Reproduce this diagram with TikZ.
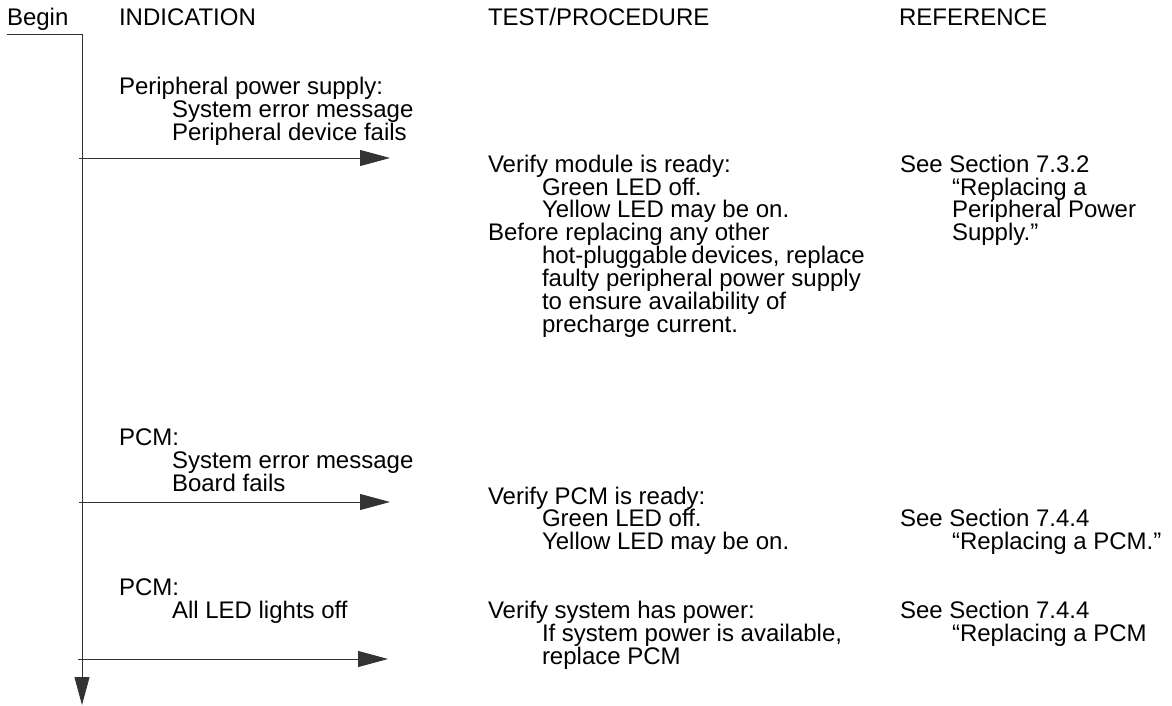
\documentclass[tikz,border=0pt]{standalone}
\usepackage{fontspec}
\setmainfont{Liberation Sans}
\usetikzlibrary{arrows.meta}
\begin{document}
\begin{tikzpicture}[x=1pt,y=-1pt,
  txt/.style={anchor=base west,inner sep=0pt,outer sep=0pt,font=\fontsize{24}{24}\selectfont},
  flow/.style={line width=0.9pt,draw=black!80},
  harr/.style={flow,-{Triangle[length=30pt,width=16pt]}},
  varr/.style={flow,-{Triangle[length=28pt,width=15pt]}}]
\useasboundingbox (0,0) rectangle (1172,706);
% headers
\node[txt] (hbegin) at (7,26) {Begin};
\node[txt] (hind) at (119,26) {INDICATION};
\node[txt] (htest) at (488,26) {TEST/PROCEDURE};
\node[txt] (href) at (899,26) {REFERENCE};
% flow line
\coordinate (b0) at (7,34);
\coordinate (b1) at (82,34);
\coordinate (bend) at (82,705);
\draw[flow] (b0) -- (b1);
\draw[varr] (b1) -- (bend);
% block 1
\node[txt] (i1a) at (119,95) {Peripheral power supply:};
\node[txt] (i1b) at (172,118) {System error message};
\node[txt] (i1c) at (172,141) {Peripheral device fails};
\coordinate (a1s) at (79,158);
\coordinate (a1e) at (390,158);
\draw[harr] (a1s) -- (a1e);
\node[txt] (t1a) at (488,172) {Verify module is ready:};
\node[txt] (t1b) at (542,195) {Green LED off.};
\node[txt] (t1c) at (542,217.5) {Yellow LED may be on.};
\node[txt] (t1d) at (488,240) {Before replacing any other};
\node[txt] (t1e) at (542,263) {hot-pluggable\,devices, replace};
\node[txt] (t1f) at (542,286) {faulty peripheral power supply};
\node[txt] (t1g) at (542,309) {to ensure availability of};
\node[txt] (t1h) at (542,332) {precharge current.};
\node[txt] (r1a) at (900,172) {See Section 7.3.2};
\node[txt] (r1b) at (952,195) {“Replacing a};
\node[txt] (r1c) at (952,217.5) {Peripheral Power};
\node[txt] (r1d) at (952,240) {Supply.”};
% block 2
\node[txt] (i2a) at (119,445) {PCM:};
\node[txt] (i2b) at (172,468) {System error message};
\node[txt] (i2c) at (172,491) {Board fails};
\coordinate (a2s) at (79,502);
\coordinate (a2e) at (390,502);
\draw[harr] (a2s) -- (a2e);
\node[txt] (t2a) at (488,504) {Verify PCM is ready:};
\node[txt] (t2b) at (542,526.5) {Green LED off.};
\node[txt] (t2c) at (542,549) {Yellow LED may be on.};
\node[txt] (r2a) at (900,526.5) {See Section 7.4.4};
\node[txt] (r2b) at (952,549) {“Replacing a PCM.”};
% block 3
\node[txt] (i3a) at (119,595) {PCM:};
\node[txt] (i3b) at (172,618) {All LED lights off};
\coordinate (a3s) at (78,659);
\coordinate (a3e) at (388,659);
\draw[harr] (a3s) -- (a3e);
\node[txt] (t3a) at (488,618) {Verify system has power:};
\node[txt] (t3b) at (542,641) {If system power is available,};
\node[txt] (t3c) at (542,664) {replace PCM};
\node[txt] (r3a) at (900,618) {See Section 7.4.4};
\node[txt] (r3b) at (952,641) {“Replacing a PCM};
\end{tikzpicture}
\end{document}
